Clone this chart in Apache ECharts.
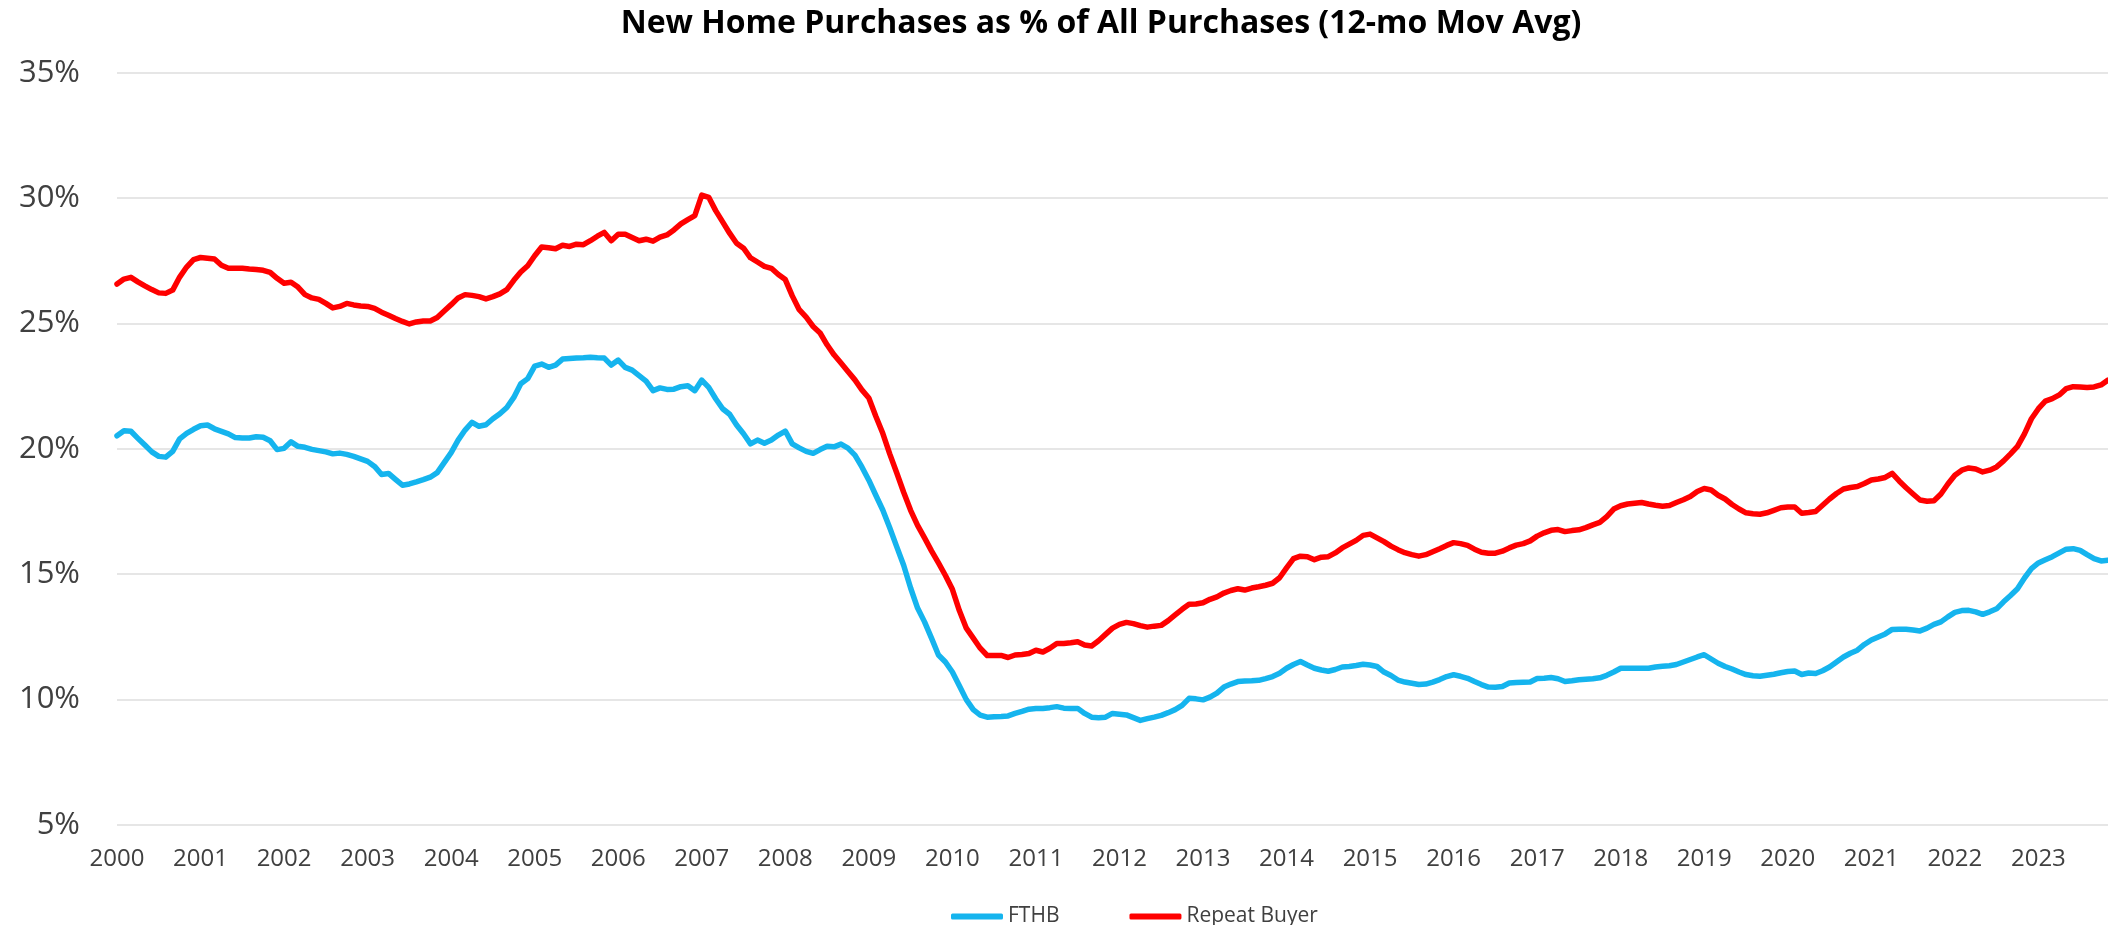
<!DOCTYPE html>
<html>
<head>
<meta charset="utf-8">
<title>New Home Purchases</title>
<script src="https://cdn.jsdelivr.net/npm/echarts@6/dist/echarts.min.js"></script>
<style>
  html, body { margin: 0; padding: 0; background: #fff; }
  #chart { width: 2108px; height: 925px; }
</style>
</head>
<body>
<div id="chart"></div>
<script>
// tick labels on the x axis (one per January)
const years = ["2000", "2001", "2002", "2003", "2004", "2005", "2006", "2007", "2008", "2009", "2010", "2011",
  "2012", "2013", "2014", "2015", "2016", "2017", "2018", "2019", "2020", "2021", "2022", "2023"];
// months shown for the last year (Jan..Nov 2023)
const lastYearMonths = 11;

// FTHB, 12-mo moving average, Jan 2000 .. Nov 2023
const fthb = [
  20.52, 20.72, 20.70, 20.42, 20.15, 19.88, 19.70, 19.67, 19.90, 20.40, 20.62, 20.78,
  20.92, 20.95, 20.80, 20.70, 20.60, 20.45, 20.43, 20.43, 20.48, 20.46, 20.32, 19.97,
  20.02, 20.28, 20.10, 20.06, 19.98, 19.93, 19.88, 19.80, 19.83, 19.78, 19.70, 19.60,
  19.50, 19.30, 18.98, 19.02, 18.78, 18.55, 18.60, 18.68, 18.77, 18.87, 19.05, 19.45,
  19.85, 20.35, 20.75, 21.06, 20.90, 20.96, 21.20, 21.40, 21.65, 22.05, 22.60, 22.80,
  23.30, 23.38, 23.25, 23.34, 23.58, 23.60, 23.62, 23.63, 23.65, 23.63, 23.62, 23.34,
  23.54, 23.25, 23.14, 22.92, 22.70, 22.32, 22.43, 22.37, 22.38, 22.48, 22.52, 22.32,
  22.74, 22.45, 22.00, 21.60, 21.38, 20.95, 20.60, 20.20, 20.35, 20.22, 20.35, 20.55,
  20.71, 20.20, 20.04, 19.90, 19.82, 19.97, 20.10, 20.08, 20.19, 20.03, 19.75, 19.28,
  18.75, 18.15, 17.56, 16.85, 16.10, 15.36, 14.45, 13.65, 13.10, 12.45, 11.78, 11.50,
  11.10, 10.55, 10.00, 9.60, 9.38, 9.30, 9.32, 9.33, 9.35, 9.45, 9.53, 9.62,
  9.65, 9.65, 9.68, 9.72, 9.66, 9.65, 9.65, 9.45, 9.30, 9.28, 9.30, 9.45,
  9.42, 9.39, 9.28, 9.17, 9.24, 9.30, 9.37, 9.48, 9.60, 9.77, 10.05, 10.03,
  9.99, 10.10, 10.26, 10.50, 10.62, 10.72, 10.74, 10.75, 10.77, 10.84, 10.92, 11.05,
  11.25, 11.40, 11.52, 11.38, 11.25, 11.18, 11.13, 11.20, 11.30, 11.32, 11.36, 11.41,
  11.38, 11.32, 11.10, 10.96, 10.78, 10.70, 10.65, 10.60, 10.62, 10.70, 10.80, 10.92,
  10.99, 10.93, 10.85, 10.72, 10.60, 10.50, 10.49, 10.52, 10.66, 10.68, 10.69, 10.70,
  10.84, 10.85, 10.88, 10.83, 10.72, 10.75, 10.79, 10.81, 10.83, 10.87, 10.97, 11.10,
  11.25, 11.25, 11.25, 11.25, 11.25, 11.30, 11.33, 11.35, 11.40, 11.50, 11.60, 11.70,
  11.79, 11.62, 11.45, 11.32, 11.22, 11.10, 11.00, 10.95, 10.93, 10.97, 11.01, 11.07,
  11.12, 11.14, 11.00, 11.06, 11.04, 11.15, 11.30, 11.50, 11.70, 11.85, 11.97, 12.20,
  12.38, 12.50, 12.62, 12.80, 12.81, 12.81, 12.78, 12.74, 12.85, 13.00, 13.10, 13.30,
  13.48, 13.55, 13.56, 13.50, 13.40, 13.50, 13.62, 13.90, 14.15, 14.42, 14.85, 15.22,
  15.45, 15.58, 15.70, 15.85, 16.00, 16.02, 15.95, 15.78, 15.62, 15.53, 15.56
];

// Repeat Buyer, 12-mo moving average, Jan 2000 .. Nov 2023
const repeatBuyer = [
  26.57, 26.77, 26.84, 26.66, 26.50, 26.35, 26.22, 26.20, 26.33, 26.85, 27.25, 27.55,
  27.63, 27.60, 27.57, 27.32, 27.20, 27.20, 27.20, 27.17, 27.15, 27.12, 27.04, 26.80,
  26.60, 26.64, 26.45, 26.15, 26.02, 25.96, 25.80, 25.62, 25.68, 25.80, 25.74, 25.70,
  25.68, 25.60, 25.45, 25.33, 25.20, 25.08, 24.98, 25.06, 25.10, 25.10, 25.24, 25.50,
  25.75, 26.02, 26.15, 26.12, 26.07, 25.98, 26.07, 26.18, 26.35, 26.72, 27.05, 27.30,
  27.70, 28.05, 28.02, 27.98, 28.12, 28.07, 28.16, 28.14, 28.30, 28.48, 28.63, 28.30,
  28.56, 28.56, 28.43, 28.30, 28.36, 28.28, 28.44, 28.53, 28.73, 28.97, 29.14, 29.30,
  30.12, 30.03, 29.50, 29.05, 28.60, 28.20, 28.00, 27.62, 27.45, 27.28, 27.20, 26.95,
  26.75, 26.10, 25.55, 25.25, 24.88, 24.62, 24.15, 23.75, 23.42, 23.08, 22.75, 22.35,
  22.03, 21.30, 20.62, 19.80, 19.05, 18.27, 17.55, 16.95, 16.45, 15.93, 15.45, 14.95,
  14.40, 13.55, 12.85, 12.45, 12.05, 11.76, 11.76, 11.76, 11.68, 11.78, 11.80, 11.84,
  11.97, 11.90, 12.05, 12.24, 12.24, 12.27, 12.31, 12.18, 12.14, 12.35, 12.60, 12.85,
  13.00, 13.08, 13.03, 12.95, 12.89, 12.93, 12.96, 13.15, 13.38, 13.60, 13.80, 13.81,
  13.86, 14.00, 14.10, 14.25, 14.35, 14.42, 14.37, 14.45, 14.50, 14.56, 14.64, 14.86,
  15.25, 15.62, 15.72, 15.70, 15.58, 15.68, 15.70, 15.85, 16.05, 16.20, 16.35, 16.55,
  16.60, 16.45, 16.30, 16.12, 15.98, 15.86, 15.78, 15.72, 15.78, 15.90, 16.02, 16.15,
  16.26, 16.22, 16.15, 16.00, 15.88, 15.84, 15.84, 15.92, 16.05, 16.16, 16.22, 16.33,
  16.52, 16.65, 16.75, 16.78, 16.70, 16.74, 16.77, 16.86, 16.97, 17.07, 17.30, 17.60,
  17.73, 17.80, 17.83, 17.86, 17.80, 17.75, 17.71, 17.74, 17.86, 17.97, 18.10, 18.30,
  18.42, 18.36, 18.15, 18.00, 17.78, 17.60, 17.45, 17.41, 17.39, 17.45, 17.55, 17.65,
  17.68, 17.68, 17.43, 17.46, 17.50, 17.75, 18.00, 18.22, 18.40, 18.46, 18.50, 18.62,
  18.76, 18.80, 18.86, 19.02, 18.72, 18.45, 18.20, 17.96, 17.91, 17.93, 18.20, 18.60,
  18.95, 19.15, 19.24, 19.20, 19.08, 19.15, 19.28, 19.52, 19.80, 20.10, 20.60, 21.20,
  21.60, 21.90, 22.00, 22.15, 22.40, 22.48, 22.47, 22.45, 22.47, 22.55, 22.74
];

// month categories built from the year labels
const months = [];
years.forEach(function (y, i) {
  const n = i === years.length - 1 ? lastYearMonths : 12;
  for (let m = 1; m <= n; m++) {
    months.push(y + "-" + (m < 10 ? "0" + m : m));
  }
});

const labelFont = "'Open Sans', 'Noto Sans', sans-serif";

const chart = echarts.init(document.getElementById("chart"), null, { renderer: "canvas" });
chart.setOption({
  animation: false,
  backgroundColor: "#ffffff",
  title: {
    text: "New Home Purchases as % of All Purchases (12-mo Mov Avg)",
    left: 1096,
    top: 3,
    textAlign: "center",
    textStyle: {
      fontFamily: labelFont,
      fontSize: 32,
      fontWeight: "bold",
      color: "#000000"
    }
  },
  legend: {
    data: ["FTHB", "Repeat Buyer"],
    left: 946,
    top: 901,
    icon: "roundRect",
    itemWidth: 52,
    itemHeight: 6,
    itemGap: 70,
    textStyle: {
      fontFamily: labelFont,
      fontSize: 21,
      color: "#404040"
    }
  },
  grid: {
    left: 117,
    right: 0,
    top: 72.7,
    bottom: 100
  },
  xAxis: {
    type: "category",
    data: months,
    boundaryGap: false,
    axisLine: { show: false },
    axisTick: { show: false },
    axisLabel: {
      interval: function (index) { return index % 12 === 0; },
      formatter: function (v) { return v.slice(0, 4); },
      margin: 22,
      fontFamily: labelFont,
      fontSize: 24,
      color: "#404040"
    },
    splitLine: { show: false }
  },
  yAxis: {
    type: "value",
    min: 5,
    max: 35,
    interval: 5,
    axisLine: { show: false },
    axisTick: { show: false },
    axisLabel: {
      formatter: "{value}%",
      margin: 37,
      fontFamily: labelFont,
      fontSize: 31,
      color: "#404040"
    },
    splitLine: {
      lineStyle: { color: "#dedede", width: 1.5 }
    }
  },
  series: [
    {
      name: "FTHB",
      type: "line",
      data: fthb,
      showSymbol: false,
      symbol: "none",
      itemStyle: { color: "#15b4ee" },
      lineStyle: { color: "#15b4ee", width: 5.5, join: "round", cap: "round" }
    },
    {
      name: "Repeat Buyer",
      type: "line",
      data: repeatBuyer,
      showSymbol: false,
      symbol: "none",
      itemStyle: { color: "#ff0000" },
      lineStyle: { color: "#ff0000", width: 5.5, join: "round", cap: "round" }
    }
  ]
});
</script>
</body>
</html>
